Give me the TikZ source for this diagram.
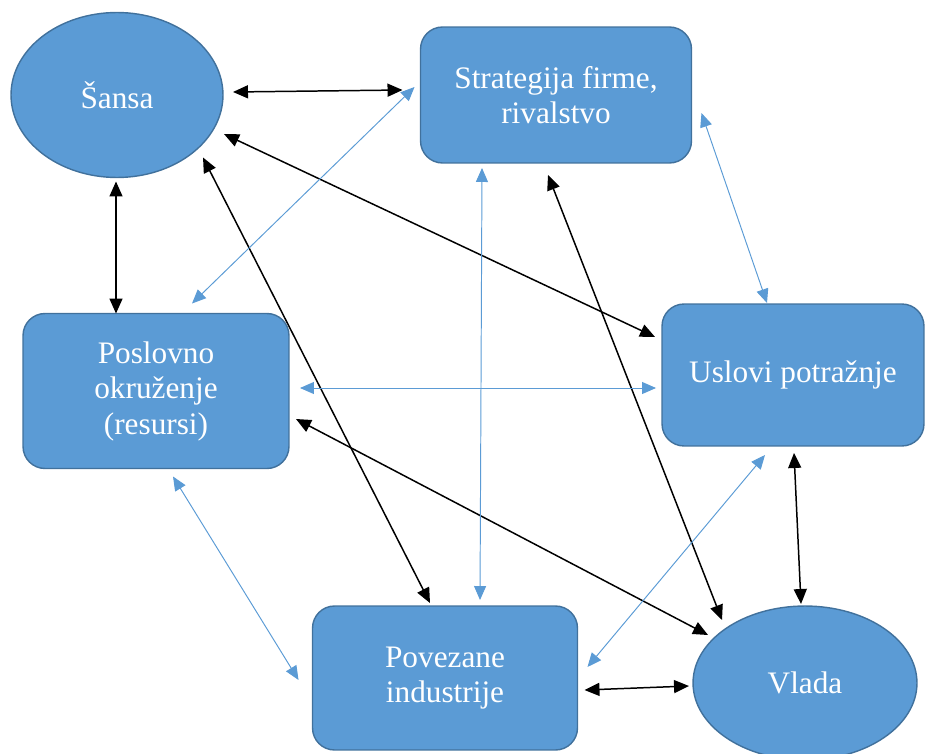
\documentclass[tikz,border=0pt]{standalone}
\usepackage{fontspec}
\setmainfont{Liberation Serif}
\usetikzlibrary{calc, shapes, arrows.meta}

\definecolor{boxblue}{HTML}{5B9BD5}
\definecolor{boxline}{HTML}{41719C}

\begin{document}
\begin{tikzpicture}[x=0.02cm,y=-0.02cm]
\tikzstyle{box}=[rectangle,rounded corners=0.44cm,fill=boxblue,draw=boxline,line width=0.8pt,text=white,align=center,inner sep=0pt,outer sep=0pt,font=\fontsize{17.8}{20.2}\selectfont]
\tikzstyle{oval}=[box,ellipse,sharp corners]
\tikzstyle{blk}=[{Triangle[length=0.3cm,width=0.26cm]}-{Triangle[length=0.3cm,width=0.26cm]},line width=0.85pt,black]
\tikzstyle{blu}=[{Triangle[length=0.28cm,width=0.24cm]}-{Triangle[length=0.28cm,width=0.24cm]},line width=0.55pt,boxblue]
\clip (0,0) rectangle (925,753);
\node[oval,minimum width=4.24cm,minimum height=3.3cm] (sansa) at (117,95) {Šansa};
\node[box,minimum width=5.42cm,minimum height=2.72cm] (strat) at (556,95) {Strategija firme,\\rivalstvo};
\node[box,minimum width=5.32cm,minimum height=3.1cm] (posl) at (156,391) {Poslovno\\okruženje\\(resursi)};
\node[box,minimum width=5.24cm,minimum height=2.84cm] (uslovi) at (793,375) {Uslovi potražnje};
\node[box,minimum width=5.3cm,minimum height=2.88cm] (povez) at (445,678) {Povezane\\industrije};
\node[oval,minimum width=4.48cm,minimum height=3.08cm] (vlada) at (805,683) {Vlada};
% black links
\draw[blk] ([shift={(10,-3)}]sansa.east) -- ([shift={(-18,-5)}]strat.west);
\draw[blk] ([shift={(-1,4)}]sansa.south) -- ([shift={(-40,0)}]posl.north);
\draw[blk] ([shift={(1,39)}]sansa.east) -- ([shift={(-7,-38)}]uslovi.west);
\draw[blk] ([shift={(86,-20)}]sansa.south) -- ([shift={(-15,-3)}]povez.north);
\draw[blk] ([shift={(-8,12)}]strat.south) -- ([shift={(-83,14)}]vlada.north);
\draw[blk] ([shift={(7,28)}]posl.east) -- ([shift={(15,-48)}]vlada.west);
\draw[blk] ([shift={(1,7)}]uslovi.south) -- ([shift={(-4,-2)}]vlada.north);
\draw[blk] ([shift={(7,12)}]povez.east) -- ([shift={(-4,3)}]vlada.west);
% blue links
\draw[blu] ([shift={(36,-10)}]posl.north) -- ([shift={(-6,-8)}]strat.west);
\draw[blu] ([shift={(-74,5)}]strat.south) -- ([shift={(35,-6)}]povez.north);
\draw[blu] ([shift={(10,18)}]strat.east) -- ([shift={(-26,-1)}]uslovi.north);
\draw[blu] ([shift={(11,-3)}]posl.east) -- ([shift={(-6,13)}]uslovi.west);
\draw[blu] ([shift={(17,8)}]posl.south) -- ([shift={(-14,2)}]povez.west);
\draw[blu] ([shift={(10,-11)}]povez.east) -- ([shift={(-28,9)}]uslovi.south);
\end{tikzpicture}
\end{document}
